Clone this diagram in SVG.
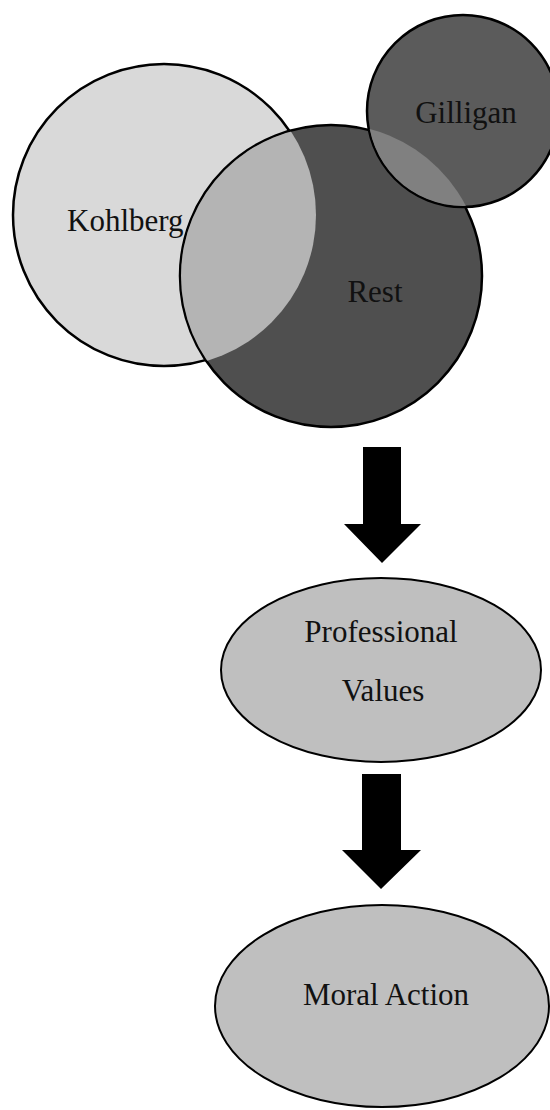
<svg xmlns="http://www.w3.org/2000/svg" width="550" height="1110" viewBox="0 0 550 1110">
<style>
text{font-family:'Liberation Serif','Times New Roman',Times,'DejaVu Serif',serif;font-size:31px;fill:#111}
.edge{stroke:#000;stroke-width:2.5}
.arrow{fill:#000}
.ell{fill:#bfbfbf;stroke:#000;stroke-width:2}
</style>
<defs>
<clipPath id="clipRest"><circle cx="331" cy="276" r="150"/></clipPath>
<clipPath id="clipGill"><circle cx="463" cy="111" r="95"/></clipPath>
</defs>
<rect width="550" height="1110" fill="#fff"/>
<g id="kohlberg">
<circle class="edge" cx="164" cy="215" r="151" fill="#d9d9d9"/>
<text x="67" y="231" font-family="Liberation Serif, serif">Kohlberg</text>
</g>
<g id="rest">
<circle class="edge" cx="331" cy="276" r="151" fill="#4f4f4f"/>
<circle cx="164" cy="215" r="152" fill="#b4b4b4" clip-path="url(#clipRest)"/>
<text x="375" y="302" text-anchor="middle" font-family="Liberation Serif, serif">Rest</text>
</g>
<g id="gilligan">
<circle class="edge" cx="463" cy="111" r="96" fill="#5b5b5b"/>
<circle cx="331" cy="276" r="152" fill="#808080" clip-path="url(#clipGill)"/>
<text x="466" y="123" text-anchor="middle" font-family="Liberation Serif, serif">Gilligan</text>
</g>
<g id="connectors">
<polygon class="arrow" points="363,447 401,447 401,524 421,524 382,563 344,524 363,524"/>
<polygon class="arrow" points="362,774 401,774 401,850 421,850 381,889 342,850 362,850"/>
</g>
<g id="professional-values">
<ellipse class="ell" cx="381" cy="670" rx="160" ry="92"/>
<text x="381" y="642" text-anchor="middle" font-family="Liberation Serif, serif">Professional</text>
<text x="383" y="701" text-anchor="middle" font-family="Liberation Serif, serif">Values</text>
</g>
<g id="moral-action">
<ellipse class="ell" cx="382" cy="1006" rx="167" ry="101"/>
<text x="386" y="1005" text-anchor="middle" font-family="Liberation Serif, serif">Moral Action</text>
</g>
</svg>
